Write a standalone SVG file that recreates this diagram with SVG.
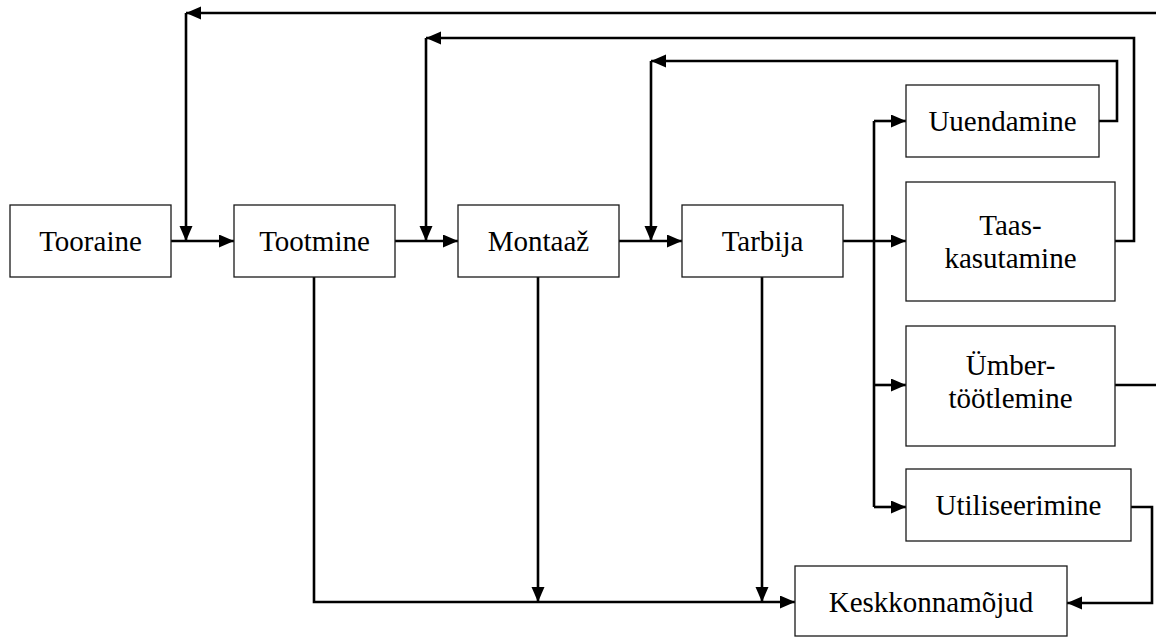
<svg xmlns="http://www.w3.org/2000/svg" width="1156" height="637" viewBox="0 0 1156 637">
<style>
.box{fill:#fff;stroke:#1a1a1a;stroke-width:1.3}
.t{font-family:"Liberation Serif","Times New Roman",serif;font-size:29px;fill:#000;text-anchor:middle}
.c{fill:none;stroke:#000;stroke-width:2.6}
</style>
<defs>
<marker id="ah" markerUnits="userSpaceOnUse" markerWidth="16" markerHeight="14" refX="15" refY="6.5" orient="auto">
<path d="M0,0 L15,6.5 L0,13 z" fill="#000"/>
</marker>
</defs>
<rect width="1156" height="637" fill="#fff"/>
<g id="connectors">
<path class="c" d="M171,241 H234" marker-end="url(#ah)"/>
<path class="c" d="M395,241 H458" marker-end="url(#ah)"/>
<path class="c" d="M619,241 H682" marker-end="url(#ah)"/>
<path class="c" d="M843,241 H906" marker-end="url(#ah)"/>
<path class="c" d="M1160,13 H186" marker-end="url(#ah)"/>
<path class="c" d="M186,13 V241" marker-end="url(#ah)"/>
<path class="c" d="M1115,241 H1134 V38 H426" marker-end="url(#ah)"/>
<path class="c" d="M426,38 V241" marker-end="url(#ah)"/>
<path class="c" d="M1099,121 H1117 V61 H651" marker-end="url(#ah)"/>
<path class="c" d="M651,61 V241" marker-end="url(#ah)"/>
<path class="c" d="M874,121 V507"/>
<path class="c" d="M874,121 H906" marker-end="url(#ah)"/>
<path class="c" d="M874,385 H906" marker-end="url(#ah)"/>
<path class="c" d="M874,507 H906" marker-end="url(#ah)"/>
<path class="c" d="M1115,385 H1160"/>
<path class="c" d="M1131,507 H1152 V603 H1067" marker-end="url(#ah)"/>
<path class="c" d="M314,277 V602 H795" marker-end="url(#ah)"/>
<path class="c" d="M538,277 V602" marker-end="url(#ah)"/>
<path class="c" d="M762,277 V602" marker-end="url(#ah)"/>
</g>
<g id="tooraine"><rect class="box" x="10" y="205" width="161" height="72"/><text class="t" x="90.5" y="251">Tooraine</text></g>
<g id="tootmine"><rect class="box" x="234" y="205" width="161" height="72"/><text class="t" x="314.5" y="251">Tootmine</text></g>
<g id="montaaz"><rect class="box" x="458" y="205" width="161" height="72"/><text class="t" x="538.5" y="251">Montaaž</text></g>
<g id="tarbija"><rect class="box" x="682" y="205" width="161" height="72"/><text class="t" x="762.5" y="251">Tarbija</text></g>
<g id="uuendamine"><rect class="box" x="906" y="85" width="193" height="72"/><text class="t" x="1002.5" y="131">Uuendamine</text></g>
<g id="taaskasutamine"><rect class="box" x="906" y="182" width="209" height="119"/><text class="t" x="1010.5" y="235">Taas-</text><text class="t" x="1010.5" y="268">kasutamine</text></g>
<g id="umbertootlemine"><rect class="box" x="906" y="326" width="209" height="120"/><text class="t" x="1010.5" y="375">Ümber-</text><text class="t" x="1010.5" y="408">töötlemine</text></g>
<g id="utiliseerimine"><rect class="box" x="906" y="469" width="225" height="72"/><text class="t" x="1018.5" y="515">Utiliseerimine</text></g>
<g id="keskkonnamojud"><rect class="box" x="795" y="566" width="272" height="70"/><text class="t" x="931" y="612">Keskkonnamõjud</text></g>
</svg>
